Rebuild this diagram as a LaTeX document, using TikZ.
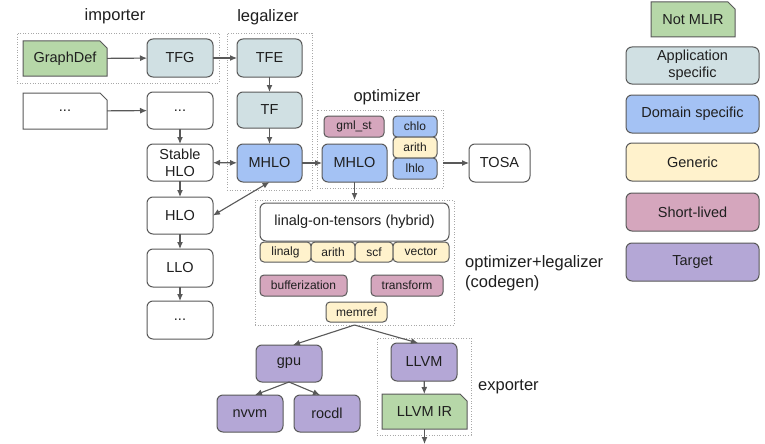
\documentclass[tikz,border=0pt]{standalone}
\usepackage{fontspec}
\setmainfont{Liberation Sans}
\usetikzlibrary{arrows.meta}
\definecolor{cgreen}{HTML}{B6D7A8}
\definecolor{capp}{HTML}{D0E0E3}
\definecolor{cdom}{HTML}{A4C2F4}
\definecolor{cgen}{HTML}{FFF2CC}
\definecolor{cshort}{HTML}{D5A6BD}
\definecolor{ctgt}{HTML}{B4A7D6}
\definecolor{cline}{HTML}{595959}
\definecolor{cdot}{HTML}{A8A8A8}
\definecolor{ctext}{HTML}{1F1F1F}
\pgfdeclarelayer{bg}
\pgfdeclarelayer{canvas}
\pgfsetlayers{canvas,bg,main}
\tikzset{
  wh/.style 2 args={minimum width=#1, minimum height=#2},
  base/.style={draw=cline, line width=1pt, rounded corners=6pt, text=ctext,
    font=\fontsize{14.5}{17}\selectfont, inner sep=0pt, outer sep=0pt, align=center},
  small/.style={base, rounded corners=4pt, font=\fontsize{12}{14}\selectfont},
  notetext/.style={text=ctext, font=\fontsize{14.5}{17}\selectfont, inner sep=0pt, outer sep=0pt, align=center},
  notefill/.style={draw=cline, line width=1pt},
  grp/.style={draw=cdot, dash pattern=on 1pt off 1.6pt, line width=0.9pt, inner sep=0pt, outer sep=0pt},
  lbl/.style={text=ctext, font=\fontsize{16.5}{20}\selectfont, inner sep=0pt, align=left},
  arr/.style={draw=cline, line width=1.1pt, -{Latex[length=7pt,width=6pt]}},
  darr/.style={draw=cline, line width=1.1pt, {Latex[length=7pt,width=6pt]}-{Latex[length=7pt,width=6pt]}},
}
\newcommand\snipfill[2]{%
  \begin{pgfonlayer}{bg}
  \filldraw[notefill, fill=#2] (#1.south west) -- (#1.north west) -- ([xshift=-7pt]#1.north east)
    -- ([yshift=-7pt]#1.north east) -- (#1.south east) -- cycle;
  \end{pgfonlayer}}
\begin{document}
\begin{tikzpicture}[x=1pt, y=-1pt]
\begin{pgfonlayer}{canvas}
\fill[white] (0,0) rectangle (765,444);
\end{pgfonlayer}
\useasboundingbox (0,0) rectangle (765,444);

% group boxes
\node[grp, wh={202}{50}] (impbox) at (118,58) {};
\node[grp, wh={85}{157}] (legbox) at (269.5,111.5) {};
\node[grp, wh={126}{78}] (optbox) at (380,149) {};
\node[grp, wh={199}{125}] (cgbox) at (354.5,262.5) {};
\node[grp, wh={94}{97}] (expbox) at (424,386.5) {};

% labels
\node[lbl] (limp) at (115,16) {importer};
\node[lbl] (lleg) at (268,17) {legalizer};
\node[lbl] (lopt) at (387,97) {optimizer};
\node[lbl, anchor=west] (lcg) at (465,273) {optimizer+legalizer\\(codegen)};
\node[lbl, anchor=west] (lexp) at (478,387) {exporter};

% importer
\node[notetext, wh={84}{35}] (graphdef) at (65,58.5) {GraphDef};
\snipfill{graphdef}{cgreen}
\node[base, fill=capp, wh={66}{38}] (tfg) at (180,58) {TFG};
\node[notetext, wh={84}{36}] (dotsa) at (65,111) {...};
\snipfill{dotsa}{white}
\node[base, fill=white, wh={66}{37}] (dotsb) at (180,110.5) {...};
\node[base, fill=white, wh={66}{37}] (stable) at (180,162.5) {Stable\\HLO};
\node[base, fill=white, wh={66}{37}] (hlo) at (180,215.5) {HLO};
\node[base, fill=white, wh={66}{38}] (llo) at (180,268) {LLO};
\node[base, fill=white, wh={66}{38}] (dotsc) at (180,320) {...};

% legalizer
\node[base, fill=capp, wh={65}{38}] (tfe) at (269.5,58) {TFE};
\node[base, fill=capp, wh={65}{36}] (tf) at (269.5,110) {TF};
\node[base, fill=cdom, wh={65}{38}] (mhloa) at (269.5,163) {MHLO};

% optimizer
\node[small, fill=cshort, wh={60}{21}] (gml) at (354,126.5) {gml\_st};
\node[base, fill=cdom, wh={65}{38}] (mhlob) at (354.5,163) {MHLO};
\node[small, fill=cdom, wh={44}{21}] (chlo) at (415,126.5) {chlo};
\node[small, fill=cgen, wh={44}{21}] (aritha) at (415,147.5) {arith};
\node[small, fill=cdom, wh={44}{21}] (lhlo) at (415,168.5) {lhlo};
\node[base, fill=white, wh={61}{38}] (tosa) at (499.5,163) {TOSA};

% codegen
\node[base, fill=white, wh={189}{38}] (lot) at (354.5,222) {linalg-on-tensors (hybrid)};
\node[small, fill=cgen, wh={51}{20}] (linalg) at (285.5,252) {linalg};
\node[small, fill=cgen, wh={44}{20}] (arithb) at (333,252) {arith};
\node[small, fill=cgen, wh={38}{20}] (scf) at (374,252) {scf};
\node[small, fill=cgen, wh={56}{20}] (vector) at (421,252) {vector};
\node[small, fill=cshort, wh={87}{21}] (buff) at (303.5,285.5) {bufferization};
\node[small, fill=cshort, wh={72}{21}] (transf) at (407,285.5) {transform};
\node[small, fill=cgen, wh={61}{20}] (memref) at (356.5,312) {memref};

% targets
\node[base, fill=ctgt, wh={66}{37}] (gpu) at (289,363.5) {gpu};
\node[base, fill=ctgt, wh={66}{37}] (nvvm) at (250,413.5) {nvvm};
\node[base, fill=ctgt, wh={66}{37}] (rocdl) at (327,413.5) {rocdl};
\node[base, fill=ctgt, wh={66}{38}] (llvm) at (424,362) {LLVM};
\node[notetext, wh={85}{35}] (llvmir) at (424.5,411.5) {LLVM IR};
\snipfill{llvmir}{cgreen}
\coordinate (out) at (424.5,444);

% legend
\node[notetext, wh={84}{35}] (lgnot) at (693,19.5) {Not MLIR};
\snipfill{lgnot}{cgreen}
\node[base, fill=capp, wh={133}{37}] (lgapp) at (692.5,65.5) {Application\\specific};
\node[base, fill=cdom, wh={133}{38}] (lgdom) at (692.5,114) {Domain specific};
\node[base, fill=cgen, wh={133}{38}] (lggen) at (692.5,162) {Generic};
\node[base, fill=cshort, wh={133}{38}] (lgshort) at (692.5,212) {Short-lived};
\node[base, fill=ctgt, wh={133}{38}] (lgtgt) at (692.5,262) {Target};

% connectors
\draw[arr] (graphdef) -- (tfg);
\draw[arr] (tfg) -- (tfe);
\draw[arr] (dotsa) -- (dotsb);
\draw[arr] (dotsb) -- (stable);
\draw[arr] (stable) -- (hlo);
\draw[arr] (hlo) -- (llo);
\draw[arr] (llo) -- (dotsc);
\draw[darr] (stable) -- (mhloa);
\draw[arr] (tfe) -- (tf);
\draw[arr] (tf) -- (mhloa);
\draw[darr] (mhloa.south) -- (hlo.east);
\draw[arr] (mhloa) -- (mhlob);
\draw[arr] (optbox.east |- tosa.west) -- (tosa.west);
\draw[arr] (mhlob) -- (cgbox);
\draw[arr] (cgbox.south) -- ([xshift=4pt]gpu.north);
\draw[arr] (cgbox.south) -- ([xshift=-6pt]llvm.north);
\draw[arr] (gpu.south) -- ([xshift=5pt]nvvm.north);
\draw[arr] (gpu.south) -- ([xshift=-7pt]rocdl.north);
\draw[arr] (llvm) -- (llvmir);
\draw[arr] (llvmir) -- (out);
\end{tikzpicture}
\end{document}
